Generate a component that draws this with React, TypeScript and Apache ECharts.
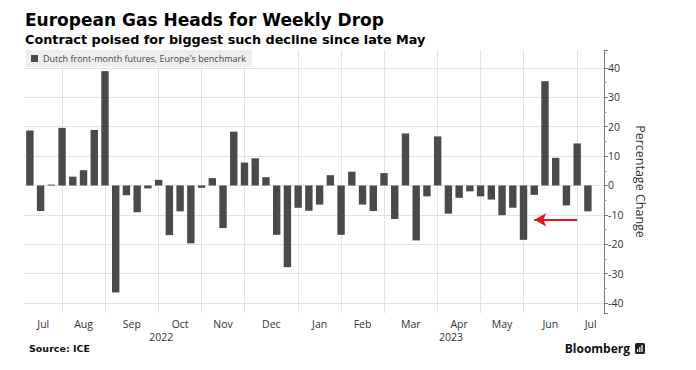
import React, { useEffect, useRef } from 'react';
import * as echarts from 'echarts';

// Weekly (Friday) observations
const weeks = [
  '2022-07-08', '2022-07-15', '2022-07-22', '2022-07-29',
  '2022-08-05', '2022-08-12', '2022-08-19', '2022-08-26',
  '2022-09-02', '2022-09-09', '2022-09-16', '2022-09-23', '2022-09-30',
  '2022-10-07', '2022-10-14', '2022-10-21', '2022-10-28',
  '2022-11-04', '2022-11-11', '2022-11-18', '2022-11-25',
  '2022-12-02', '2022-12-09', '2022-12-16', '2022-12-23', '2022-12-30',
  '2023-01-06', '2023-01-13', '2023-01-20', '2023-01-27',
  '2023-02-03', '2023-02-10', '2023-02-17', '2023-02-24',
  '2023-03-03', '2023-03-10', '2023-03-17', '2023-03-24', '2023-03-31',
  '2023-04-07', '2023-04-14', '2023-04-21', '2023-04-28',
  '2023-05-05', '2023-05-12', '2023-05-19', '2023-05-26',
  '2023-06-02', '2023-06-09', '2023-06-16', '2023-06-23', '2023-06-30',
  '2023-07-07',
];

// Weekly percentage change, Dutch front-month futures
const weeklyChange = [
  18.7, -8.7, 0.3, 19.6,
  3.0, 5.2, 18.9, 38.9,
  -36.4, -3.3, -9.1, -1.0, 1.9,
  -16.9, -8.8, -19.7, -0.8,
  2.5, -14.5, 18.3, 7.8,
  9.3, 2.8, -16.8, -27.8, -7.6,
  -8.6, -6.5, 3.5, -16.8,
  4.7, -6.5, -8.7, 4.2,
  -11.4, 17.7, -18.7, -3.7, 16.7,
  -9.6, -4.2, -2.0, -3.7,
  -4.8, -10.1, -7.6, -18.5,
  -3.2, 35.5, 9.4, -6.8, 14.3,
  -8.8,
];

const monthNames = ['Jan', 'Feb', 'Mar', 'Apr', 'May', 'Jun', 'Jul', 'Aug', 'Sep', 'Oct', 'Nov', 'Dec'];
const yTicks = [40, 30, 20, 10, 0, -10, -20, -30, -40];
const yMin = -43.4;
const yMax = 46.1;

const seriesName = "Dutch front-month futures, Europe's benchmark";
const titleText = 'European Gas Heads for Weekly Drop';
const subtitleText = 'Contract poised for biggest such decline since late May';
const yAxisName = 'Percentage Change';
const sourceText = 'Source: ICE';
const brandText = 'Bloomberg';

// Annotation arrow: from week index to week index at a value
const arrowFromWeek = 51;
const arrowToWeek = 47;
const arrowValue = -11.7;

export default function App() {
  const ref = useRef<HTMLDivElement>(null);

  useEffect(() => {
    document.body.style.margin = '0';
    const chart = echarts.init(ref.current!, null, { renderer: 'svg' });

    const W = 696;
    const gridLeft = 24.5;
    const gridRight = 92;
    const gridTop = 50;
    const gridBottom = 57;
    const cats = [...weeks, '']; // trailing blank band before the axis
    const bw = (W - gridLeft - gridRight) / cats.length;

    const monthOf = (i: number) => Number(weeks[i].slice(5, 7)) - 1;
    const yearOf = (i: number) => weeks[i].slice(0, 4);

    const monthEnds: number[] = [];
    for (let i = 0; i < weeks.length - 1; i++) {
      if (monthOf(i) !== monthOf(i + 1)) monthEnds.push(i);
    }
    const yearEnds: number[] = [];
    for (let i = 0; i < weeks.length - 1; i++) {
      if (yearOf(i) !== yearOf(i + 1)) yearEnds.push(i);
    }
    const leftEdge = -0.5;
    const rightEdge = cats.length - 0.5;

    const rich: Record<string, any> = {};
    const labelStyle = (key: string, frac: number, fs: number) => {
      rich[key] = {
        fontSize: fs,
        color: '#333',
        fontFamily: 'Open Sans',
        padding: [0, 0, 0, frac * bw * 2],
      };
    };

    const buildLabels = (ends: number[], nameFor: (i: number) => string, prefix: string, fs: number) => {
      const bounds = [leftEdge, ...ends, rightEdge];
      const map: Record<number, string> = {};
      for (let k = 0; k < bounds.length - 1; k++) {
        const p = (bounds[k] + bounds[k + 1]) / 2;
        const first = k === 0 ? 0 : bounds[k] + 1;
        const idx = Math.floor(p);
        const frac = p - idx;
        const key = prefix + Math.round(frac * 100);
        labelStyle(key, frac, fs);
        map[idx] = `{${key}|${nameFor(first)}}`;
      }
      return map;
    };

    const monthLabelMap = buildLabels(monthEnds, (i) => monthNames[monthOf(i)], 'm', 10.5);
    const yearLabelMap = buildLabels(yearEnds, (i) => yearOf(i), 'y', 10.5);

    const gridLineStyle = { color: '#e2e2e2', width: 1, type: 'solid' as const };

    chart.setOption({
      animation: false,
      backgroundColor: '#ffffff',
      textStyle: { fontFamily: 'Open Sans' },
      title: {
        text: titleText,
        subtext: subtitleText,
        left: 25,
        top: 11,
        padding: 0,
        itemGap: 5,
        textStyle: { fontFamily: 'DejaVu Sans', fontWeight: 'bold', fontSize: 17, color: '#000' },
        subtextStyle: { fontFamily: 'DejaVu Sans', fontWeight: 'bold', fontSize: 12.8, color: '#000' },
      },
      legend: {
        data: [seriesName],
        left: 26,
        top: 50,
        padding: [4, 6, 4, 5],
        backgroundColor: '#eeeeee',
        itemWidth: 7,
        itemHeight: 7,
        icon: 'rect',
        selectedMode: false,
        textStyle: { fontSize: 9, color: '#444', fontFamily: 'Open Sans' },
      },
      grid: { left: gridLeft, right: gridRight, top: gridTop, bottom: gridBottom, containLabel: false },
      xAxis: [
        {
          type: 'category',
          data: cats,
          boundaryGap: true,
          axisLine: { show: false },
          axisTick: { show: false },
          splitLine: { show: false },
          axisLabel: {
            interval: 0,
            margin: 5,
            rich,
            formatter: (_v: string, i: number) => monthLabelMap[i] ?? '',
          },
        },
        {
          type: 'category',
          data: cats,
          position: 'bottom',
          offset: 13,
          boundaryGap: true,
          axisLine: { show: false },
          axisTick: { show: false },
          splitLine: { show: false },
          axisLabel: {
            interval: 0,
            margin: 5,
            rich,
            formatter: (_v: string, i: number) => yearLabelMap[i] ?? '',
          },
        },
      ],
      yAxis: {
        type: 'value',
        position: 'right',
        min: yMin,
        max: yMax,
        splitNumber: 9,
        axisLine: { show: true, lineStyle: { color: '#7a7a7a', width: 1 } },
        axisTick: { show: true, length: 4, lineStyle: { color: '#7a7a7a' } },
        minorTick: { show: true, splitNumber: 2, length: 2.5, lineStyle: { color: '#9a9a9a' } },
        splitLine: { show: false },
        axisLabel: {
          margin: 4,
          color: '#333',
          fontSize: 10.5,
          fontFamily: 'Open Sans',
          showMinLabel: false,
          showMaxLabel: false,
          formatter: (v: number) => (yTicks.includes(Math.round(v * 100) / 100) ? String(Math.round(v)) : ''),
        },
        name: yAxisName,
        nameLocation: 'middle',
        nameRotate: -90,
        nameGap: 25,
        nameTextStyle: { fontSize: 12.5, color: '#333', fontFamily: 'Open Sans' },
      },
      series: [
        {
          name: seriesName,
          type: 'bar',
          data: weeklyChange,
          barWidth: 7.4,
          itemStyle: { color: '#4a4a4a' },
          z: 2,
          markLine: {
            silent: true,
            z: 1,
            symbol: ['none', 'none'],
            label: { show: false },
            lineStyle: gridLineStyle,
            data: [
              ...yTicks.map((v) => ({ yAxis: v })),
              ...monthEnds.map((i) => ({ xAxis: i })),
            ],
          },
        },
        {
          name: 'annotation',
          type: 'line',
          data: [],
          markLine: {
            silent: true,
            z: 6,
            symbol: ['none', 'arrow'],
            symbolSize: [10, 12],
            label: { show: false },
            lineStyle: { color: '#e3141c', width: 2.2, type: 'solid' },
            itemStyle: { color: '#e3141c' },
            data: [[{ coord: [arrowFromWeek, arrowValue] }, { coord: [arrowToWeek, arrowValue] }]],
          },
        },
      ],
      graphic: [
        {
          type: 'text',
          left: 29,
          top: 343,
          style: { text: sourceText, font: 'bold 9.5px "DejaVu Sans"', fill: '#111' },
        },
        {
          type: 'text',
          right: 66,
          top: 342,
          style: { text: brandText, font: 'bold 12px "Open Sans"', fill: '#111' },
        },
        {
          type: 'group',
          left: 635,
          top: 343,
          children: [
            { type: 'rect', shape: { x: 0, y: 0, width: 10, height: 11, r: 1.5 }, style: { fill: '#222' } },
            { type: 'rect', shape: { x: 2, y: 6, width: 1.2, height: 3 }, style: { fill: '#fff' } },
            { type: 'rect', shape: { x: 4.2, y: 4, width: 1.2, height: 5 }, style: { fill: '#fff' } },
            { type: 'rect', shape: { x: 6.4, y: 2, width: 1.2, height: 7 }, style: { fill: '#fff' } },
          ],
        },
      ],
    });

    return () => chart.dispose();
  }, []);

  return <div ref={ref} style={{ width: 696, height: 370 }} />;
}
